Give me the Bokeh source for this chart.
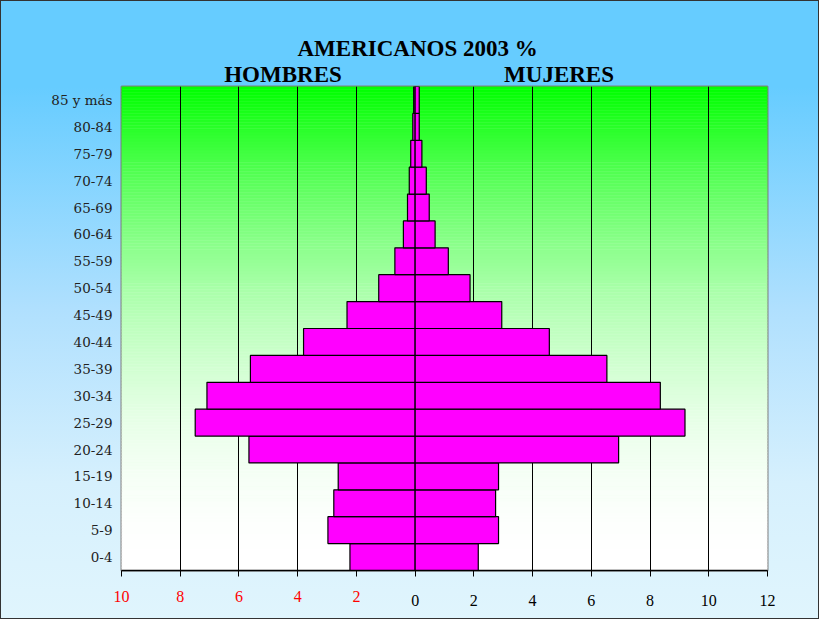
from bokeh.plotting import figure
from bokeh.models import (Range1d, FixedTicker, ColumnDataSource, LinearAxis)
from bokeh.embed import file_html
from bokeh.resources import INLINE

# ---- data ----
ages = ["0-4", "5-9", "10-14", "15-19", "20-24", "25-29", "30-34", "35-39",
        "40-44", "45-49", "50-54", "55-59", "60-64", "65-69", "70-74",
        "75-79", "80-84", "85 y más"]
hombres = [2.22, 2.97, 2.77, 2.62, 5.66, 7.49, 7.09, 5.61, 3.80, 2.32,
           1.24, 0.69, 0.40, 0.26, 0.20, 0.15, 0.08, 0.05]
mujeres = [2.15, 2.84, 2.74, 2.84, 6.93, 9.19, 8.35, 6.53, 4.57, 2.95,
           1.87, 1.13, 0.68, 0.48, 0.38, 0.23, 0.14, 0.14]
x_ticks = [-10, -8, -6, -4, -2, 0, 2, 4, 6, 8, 10, 12]
x_tick_labels = ["10", "8", "6", "4", "2", "0", "2", "4", "6", "8", "10", "12"]
title_text = "AMERICANOS 2003 %"
side_titles = ["HOMBRES", "MUJERES"]
side_title_pos = [-4.5, 4.9]

SERIF = "Liberation Serif"

ypos = list(range(len(ages)))
y_lo, y_hi = -0.5, len(ages) - 0.5

p = figure(width=819, height=619,
           x_range=Range1d(x_ticks[0], x_ticks[-1]),
           y_range=Range1d(y_lo, y_hi),
           output_backend="svg", toolbar_location=None,
           min_border_left=121, min_border_right=52,
           min_border_top=86, min_border_bottom=49)

# outer gradient background via CSS
p.border_fill_color = None
p.background_fill_color = "white"
p.styles = {
    "background": "linear-gradient(to bottom, #66CCFF 0%, #66CCFF 14%, "
                  "#B0E0FE 50%, #D6F0FD 78%, #E0F5FD 100%)",
    "outline": "1px solid #333333",
    "outline-offset": "-1px",
}

# plot-area gradient (green to white), drawn as thin strips under the grid
n = 160
bottoms, tops, cols = [], [], []
span = y_hi - y_lo
for i in range(n):
    b = i / n
    t = (i + 1) / n
    frac_top = 1 - (b + t) / 2
    mix = 1 - (1 - frac_top) ** 2
    c = int(round(255 * mix))
    bottoms.append(y_lo + b * span)
    tops.append(y_lo + t * span)
    cols.append("#%02x%02x%02x" % (c, 255, c))
bg = p.quad(left=x_ticks[0], right=x_ticks[-1], bottom="b", top="t",
            fill_color="c", line_color="c", line_width=0.5,
            source=ColumnDataSource(dict(b=bottoms, t=tops, c=cols)))
bg.level = "image"

# bars
src = ColumnDataSource(dict(
    y=ypos,
    hl=[-v for v in hombres],
    mr=mujeres,
    zero=[0] * len(ages),
))
p.hbar(y="y", left="hl", right="zero", height=1.0, source=src,
       fill_color="#FF00FF", line_color="black", line_width=1.2)
p.hbar(y="y", left="zero", right="mr", height=1.0, source=src,
       fill_color="#FF00FF", line_color="black", line_width=1.2)

# ---- x axis: ticks + black labels for the MUJERES side ----
xa = p.xaxis[0]
xa.ticker = FixedTicker(ticks=x_ticks)
xa.major_label_overrides = {t: (lab if t >= 0 else "")
                            for t, lab in zip(x_ticks, x_tick_labels)}
xa.axis_line_color = "black"
xa.axis_line_width = 1.5
xa.major_tick_line_color = "black"
xa.major_tick_out = 6
xa.major_tick_in = 0
xa.minor_tick_line_color = None
xa.major_label_standoff = 18
xa.major_label_text_font = SERIF
xa.major_label_text_font_size = "16px"
xa.major_label_text_color = "black"

# second axis with red labels for the HOMBRES side, pulled up onto the first
neg_ticks = [t for t in x_ticks if t < 0]
xr = LinearAxis(ticker=FixedTicker(ticks=neg_ticks),
                major_label_overrides={t: lab for t, lab in
                                       zip(x_ticks, x_tick_labels) if t < 0},
                axis_line_color=None, major_tick_line_color=None,
                minor_tick_line_color=None, major_tick_out=0,
                major_tick_in=0, major_label_standoff=-18,
                major_label_text_font=SERIF,
                major_label_text_font_size="16px",
                major_label_text_color="#FF0000")
p.add_layout(xr, "below")

# grid
p.xgrid.ticker = FixedTicker(ticks=x_ticks)
p.xgrid.grid_line_color = "black"
p.xgrid.grid_line_alpha = 1
p.xgrid.grid_line_width = 1
p.ygrid.grid_line_color = None

# y axis
p.yaxis.ticker = FixedTicker(ticks=ypos)
p.yaxis.major_label_overrides = {i: a for i, a in zip(ypos, ages)}
p.yaxis.axis_line_color = None
p.yaxis.major_tick_line_color = None
p.yaxis.minor_tick_line_color = None
p.yaxis.major_label_standoff = 3
p.yaxis.major_label_text_font = "DejaVu Serif"
p.yaxis.major_label_text_font_size = "13.5px"
p.yaxis.major_label_text_color = "#222222"

p.outline_line_color = "#808080"
p.outline_line_width = 2

# HOMBRES / MUJERES headings as a label-only axis above the frame
top_axis = LinearAxis(ticker=FixedTicker(ticks=side_title_pos),
                      major_label_overrides=dict(zip(side_title_pos,
                                                     side_titles)),
                      axis_line_color=None, major_tick_line_color=None,
                      minor_tick_line_color=None, major_tick_out=0,
                      major_tick_in=0, major_label_standoff=0,
                      major_label_text_font=SERIF,
                      major_label_text_font_style="bold",
                      major_label_text_font_size="23px",
                      major_label_text_color="black")
p.add_layout(top_axis, "above")

# main title
p.title.text = title_text
p.title.align = "left"
p.title.offset = 176
p.title.standoff = -5
p.title.text_font = SERIF
p.title.text_font_style = "bold"
p.title.text_font_size = "23px"
p.title.text_color = "black"

open("out.html", "w").write(file_html(p, INLINE))
